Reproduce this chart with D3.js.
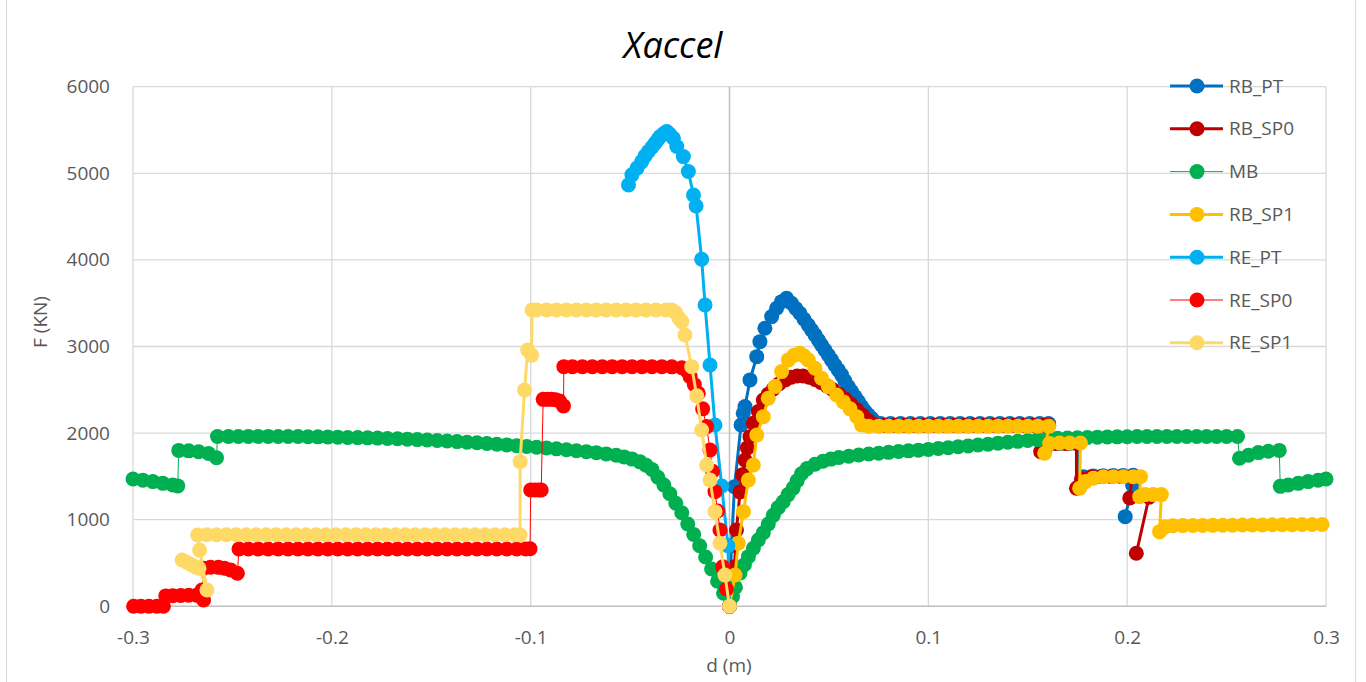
<!DOCTYPE html>
<html>
<head>
<meta charset="utf-8">
<script src="https://cdn.jsdelivr.net/npm/d3@7"></script>
<style>
  html, body { margin: 0; padding: 0; background: #ffffff; }
  svg { display: block; }
</style>
</head>
<body>
<script>
// ---------------- DATA ----------------
const xTicks = [-0.3, -0.2, -0.1, 0, 0.1, 0.2, 0.3];
const xTickLabels = ["-0.3", "-0.2", "-0.1", "0", "0.1", "0.2", "0.3"];
const yTicks = [0, 1000, 2000, 3000, 4000, 5000, 6000];
const yTickLabels = ["0", "1000", "2000", "3000", "4000", "5000", "6000"];

const seriesNames = ["RB_PT", "RB_SP0", "MB", "RB_SP1", "RE_PT", "RE_SP0", "RE_SP1"];

const RB_PT = [
  [0,0],[0.001,700],[0.0025,1380],[0.0058,2094],[0.0069,2229],[0.0078,2306],[0.0103,2614],[0.0137,2883],
  [0.0153,3056],[0.0178,3211],[0.0212,3345],[0.0237,3442],[0.0262,3518],[0.0287,3557],[0.0312,3500],
  [0.0333,3440],[0.0354,3384],[0.0375,3315],[0.0396,3249],[0.0413,3190],[0.0430,3134],[0.0447,3075],
  [0.0463,3018],[0.048,2960],[0.0497,2902],[0.0513,2845],[0.053,2787],[0.0547,2730],[0.0564,2672],
  [0.058,2605],[0.0597,2537],[0.0614,2480],[0.0631,2421],[0.0648,2365],[0.0664,2306],[0.0681,2255],
  [0.0698,2210],[0.0715,2170],[0.0731,2130],[0.076,2112],[0.081,2110],[0.086,2110],[0.091,2110],
  [0.096,2110],[0.101,2110],[0.106,2110],[0.111,2110],[0.116,2110],[0.121,2110],[0.126,2110],
  [0.131,2110],[0.136,2110],[0.141,2110],[0.146,2110],[0.151,2110],[0.156,2110],[0.1605,2110],
  [0.1585,1790],[0.161,1880],[0.166,1880],[0.171,1880],[0.1755,1880],[0.1755,1380],[0.178,1495],
  [0.183,1505],[0.188,1508],[0.193,1510],[0.198,1510],[0.203,1512],[0.2027,1400],[0.199,1035]
];

const RB_SP0 = [
  [0,0],[0.0012,200],[0.0025,457],[0.0035,881],[0.0053,1320],[0.0065,1520],[0.0078,1690],[0.009,1830],
  [0.0103,1959],[0.012,2114],[0.0145,2250],[0.017,2383],[0.0195,2450],[0.022,2510],[0.025,2570],
  [0.028,2615],[0.031,2645],[0.034,2660],[0.037,2660],[0.040,2645],[0.043,2620],[0.046,2585],
  [0.049,2545],[0.052,2500],[0.055,2450],[0.058,2395],[0.061,2335],[0.064,2270],[0.067,2205],
  [0.070,2140],[0.073,2095],[0.078,2090],[0.083,2090],[0.088,2090],[0.093,2090],[0.098,2090],
  [0.103,2090],[0.108,2090],[0.113,2090],[0.118,2090],[0.123,2090],[0.128,2090],[0.133,2090],
  [0.138,2090],[0.143,2090],[0.148,2090],[0.153,2090],[0.158,2090],[0.1605,2090],
  [0.1565,1786],[0.1595,1880],[0.164,1880],[0.169,1880],[0.1745,1880],[0.1745,1363],[0.177,1470],
  [0.182,1495],[0.187,1500],[0.192,1500],[0.197,1500],[0.2025,1500],[0.2013,1250],[0.211,1260],[0.2046,612]
];

const MB = [
  [-0.300,1470],[-0.295,1455],[-0.290,1440],[-0.285,1420],[-0.280,1400],[-0.2775,1390],
  [-0.2770,1800],[-0.272,1795],[-0.267,1785],[-0.262,1765],[-0.258,1715],
  [-0.2575,1960],[-0.252,1960],[-0.247,1960],[-0.242,1962],[-0.237,1962],[-0.232,1962],[-0.227,1960],
  [-0.222,1960],[-0.217,1960],[-0.212,1958],[-0.207,1957],[-0.202,1955],[-0.197,1953],[-0.192,1950],
  [-0.187,1948],[-0.182,1945],[-0.177,1942],[-0.172,1938],[-0.167,1934],[-0.162,1930],[-0.157,1925],
  [-0.152,1920],[-0.147,1914],[-0.142,1908],[-0.137,1902],[-0.132,1895],[-0.127,1888],[-0.122,1880],
  [-0.117,1872],[-0.112,1864],[-0.107,1855],[-0.102,1846],[-0.097,1837],[-0.092,1828],[-0.087,1818],
  [-0.082,1808],[-0.077,1797],[-0.072,1786],[-0.067,1774],[-0.062,1760],[-0.057,1745],[-0.053,1725],
  [-0.049,1700],[-0.045,1668],[-0.042,1630],[-0.039,1580],[-0.036,1490],[-0.033,1400],[-0.030,1300],
  [-0.027,1190],[-0.024,1080],[-0.021,950],[-0.018,830],[-0.015,700],[-0.012,570],[-0.009,430],
  [-0.006,290],[-0.003,150],[0,0],
  [0.0015,110],[0.003,220],[0.0053,384],[0.0075,480],[0.0095,573],[0.012,670],[0.0145,766],[0.017,850],
  [0.0195,950],[0.022,1050],[0.0245,1140],[0.027,1208],[0.0295,1290],[0.032,1365],[0.034,1450],
  [0.0362,1530],[0.039,1590],[0.043,1640],[0.047,1675],[0.051,1700],[0.055,1718],[0.060,1733],
  [0.065,1747],[0.070,1758],[0.075,1768],[0.080,1778],[0.085,1787],[0.090,1795],[0.095,1803],
  [0.100,1812],[0.105,1822],[0.110,1832],[0.115,1842],[0.120,1852],[0.125,1862],[0.130,1872],
  [0.135,1884],[0.140,1895],[0.145,1905],[0.150,1915],[0.155,1925],[0.160,1933],[0.165,1940],
  [0.170,1944],[0.175,1947],[0.180,1950],[0.185,1953],[0.190,1955],[0.195,1957],[0.200,1958],
  [0.205,1960],[0.210,1960],[0.215,1960],[0.220,1961],[0.225,1961],[0.230,1961],[0.235,1960],
  [0.240,1960],[0.245,1960],[0.250,1960],[0.2555,1960],
  [0.2565,1710],[0.261,1745],[0.266,1775],[0.271,1790],[0.2765,1800],
  [0.2770,1385],[0.281,1400],[0.286,1420],[0.291,1440],[0.296,1455],[0.300,1470]
];

const RB_SP1 = [
  [0,0],[0.0028,362],[0.0044,728],[0.007,1093],[0.0095,1459],[0.012,1632],[0.0137,1978],[0.017,2190],
  [0.0195,2402],[0.0229,2537],[0.0262,2710],[0.0296,2845],[0.0325,2900],[0.0354,2922],[0.0375,2890],
  [0.0396,2845],[0.043,2749],[0.0463,2633],[0.0497,2537],[0.0539,2440],[0.0573,2360],[0.0606,2280],
  [0.064,2190],[0.0664,2094],[0.070,2080],[0.075,2080],[0.080,2080],[0.085,2080],[0.090,2080],
  [0.095,2080],[0.100,2080],[0.105,2080],[0.110,2080],[0.115,2080],[0.120,2080],[0.125,2080],
  [0.130,2080],[0.135,2080],[0.140,2080],[0.145,2080],[0.150,2080],[0.155,2080],[0.1605,2080],
  [0.1585,1767],[0.161,1880],[0.166,1885],[0.171,1885],[0.1765,1885],[0.1761,1363],[0.179,1440],
  [0.183,1480],[0.188,1495],[0.193,1497],[0.198,1497],[0.203,1497],[0.2067,1497],[0.2063,1266],
  [0.209,1290],[0.213,1290],[0.2172,1290],[0.2163,862],[0.219,915],[0.223,930],[0.228,932],
  [0.233,933],[0.238,934],[0.243,935],[0.248,936],[0.253,937],[0.258,938],[0.263,939],[0.268,940],
  [0.273,941],[0.278,942],[0.283,943],[0.288,944],[0.293,944],[0.298,945]
];

const RE_PT = [
  [-0.0508,4866],[-0.0491,4982],[-0.0465,5060],[-0.0441,5135],[-0.0425,5200],[-0.0408,5251],
  [-0.039,5300],[-0.0374,5348],[-0.036,5390],[-0.0349,5424],[-0.033,5460],[-0.0316,5482],
  [-0.030,5450],[-0.0282,5405],[-0.0265,5309],[-0.0232,5193],[-0.0207,5020],[-0.0181,4750],
  [-0.0168,4623],[-0.014,4008],[-0.0123,3480],[-0.0098,2787],[-0.0073,2094],[-0.0039,1389],
  [-0.0008,700],[0,0]
];

const RE_SP0 = [
  [-0.2997,0],[-0.296,0],[-0.292,0],[-0.288,0],[-0.2847,0],
  [-0.2835,120],[-0.280,122],[-0.276,125],[-0.272,127],[-0.268,128],[-0.2655,125],[-0.2645,72],
  [-0.2653,188],[-0.2645,440],[-0.261,452],[-0.257,450],[-0.254,440],[-0.251,420],[-0.2475,381],
  [-0.2467,662],[-0.242,662],[-0.237,662],[-0.232,662],[-0.227,662],[-0.222,662],[-0.217,662],
  [-0.212,662],[-0.207,662],[-0.202,662],[-0.197,662],[-0.192,662],[-0.187,662],[-0.182,662],
  [-0.177,662],[-0.172,662],[-0.167,662],[-0.162,662],[-0.157,662],[-0.152,662],[-0.147,662],
  [-0.142,662],[-0.137,662],[-0.132,662],[-0.127,662],[-0.122,662],[-0.117,662],[-0.112,662],
  [-0.107,662],[-0.1025,662],[-0.1003,665],
  [-0.1,1343],[-0.098,1343],[-0.096,1343],[-0.0947,1343],
  [-0.0937,2390],[-0.0915,2390],[-0.0895,2390],[-0.0875,2385],[-0.0855,2370],[-0.0835,2314],
  [-0.0833,2767],[-0.079,2767],[-0.074,2767],[-0.069,2767],[-0.064,2767],[-0.059,2767],[-0.054,2767],
  [-0.049,2767],[-0.044,2767],[-0.039,2767],[-0.034,2767],[-0.029,2765],[-0.024,2755],
  [-0.0215,2720],[-0.0198,2652],[-0.0177,2560],[-0.0157,2460],[-0.0135,2280],[-0.0115,2075],
  [-0.0098,1805],[-0.0085,1560],[-0.0073,1324],[-0.006,1100],[-0.0048,881],[-0.0034,457],
  [-0.0015,200],[0,0]
];

const RE_SP1 = [
  [-0.2753,535],[-0.2728,505],[-0.2704,477],[-0.2685,455],[-0.2668,439],[-0.2628,188],[-0.2665,650],
  [-0.2675,824],[-0.263,826],[-0.258,826],[-0.253,826],[-0.248,826],[-0.243,826],[-0.238,826],
  [-0.233,826],[-0.228,826],[-0.223,826],[-0.218,826],[-0.213,826],[-0.208,826],[-0.203,826],
  [-0.198,826],[-0.193,826],[-0.188,826],[-0.183,826],[-0.178,826],[-0.173,826],[-0.168,826],
  [-0.163,826],[-0.158,826],[-0.153,826],[-0.148,826],[-0.143,826],[-0.138,826],[-0.133,826],
  [-0.128,826],[-0.123,826],[-0.118,826],[-0.113,826],[-0.108,826],[-0.1053,824],
  [-0.1053,1670],[-0.1031,2498],[-0.1015,2960],[-0.0995,2900],[-0.0993,3422],[-0.097,3422],
  [-0.092,3422],[-0.087,3422],[-0.082,3422],[-0.077,3422],[-0.072,3422],[-0.067,3422],[-0.062,3422],
  [-0.057,3422],[-0.052,3422],[-0.047,3422],[-0.042,3422],[-0.037,3422],[-0.032,3422],[-0.029,3422],
  [-0.027,3390],[-0.0255,3330],[-0.024,3287],[-0.0224,3133],[-0.019,2767],[-0.0165,2430],
  [-0.014,2036],[-0.0115,1632],[-0.0098,1459],[-0.0073,1093],[-0.0048,728],[-0.0023,362],[0,0]
];

const seriesData = [RB_PT, RB_SP0, MB, RB_SP1, RE_PT, RE_SP0, RE_SP1];
const seriesColors = ["#0070C0", "#C00000", "#00B050", "#FFC000", "#00B0F0", "#FF0000", "#FFD966"];
const seriesLineWidths = [3, 3, 1, 3, 3, 1, 3];

// ---------------- CHART ----------------
const W = 1366, H = 682;
const FONT = "'Open Sans', 'Noto Sans', sans-serif";
const textColor = "#595959";

const svg = d3.select("body").append("svg").attr("width", W).attr("height", H);
svg.append("rect").attr("width", W).attr("height", H).attr("fill", "#ffffff");

// chart area border (left/right visible)
svg.append("line").attr("x1", 6.5).attr("x2", 6.5).attr("y1", 0).attr("y2", H).attr("stroke", "#d9d9d9").attr("stroke-width", 1);
svg.append("line").attr("x1", 1355.5).attr("x2", 1355.5).attr("y1", 0).attr("y2", H).attr("stroke", "#d9d9d9").attr("stroke-width", 1);

const x = d3.scaleLinear().domain([-0.3, 0.3]).range([133, 1326]);
const y = d3.scaleLinear().domain([0, 6000]).range([606.3, 86.7]);

// gridlines
const grid = svg.append("g");
grid.selectAll("line.h").data(yTicks.filter(d => d !== 0)).join("line")
  .attr("x1", x(-0.3)).attr("x2", x(0.3))
  .attr("y1", d => y(d)).attr("y2", d => y(d))
  .attr("stroke", "#d9d9d9").attr("stroke-width", 1.3);
grid.selectAll("line.v").data(xTicks.filter(d => d !== 0)).join("line")
  .attr("x1", d => x(d)).attr("x2", d => x(d))
  .attr("y1", y(6000)).attr("y2", y(0))
  .attr("stroke", "#d9d9d9").attr("stroke-width", 1.3);

// zero axes
svg.append("line").attr("x1", x(-0.3)).attr("x2", x(0.3)).attr("y1", y(0)).attr("y2", y(0))
  .attr("stroke", "#bfbfbf").attr("stroke-width", 1.5);
svg.append("line").attr("x1", x(0)).attr("x2", x(0)).attr("y1", y(6000)).attr("y2", y(0))
  .attr("stroke", "#bfbfbf").attr("stroke-width", 1.5);

// axes labels via d3 axes
const xAxis = d3.axisBottom(x).tickValues(xTicks).tickFormat((d, i) => xTickLabels[i]).tickSize(0).tickPadding(24);
const gx = svg.append("g").attr("transform", `translate(0,${y(0)})`).call(xAxis);
gx.select(".domain").remove();
gx.selectAll("text").attr("font-family", FONT).attr("font-size", 19).attr("fill", textColor);

const yAxis = d3.axisLeft(y).tickValues(yTicks).tickFormat((d, i) => yTickLabels[i]).tickSize(0).tickPadding(23);
const gy = svg.append("g").attr("transform", `translate(${x(-0.3)},0)`).call(yAxis);
gy.select(".domain").remove();
gy.selectAll("text").attr("font-family", FONT).attr("font-size", 19).attr("fill", textColor);

// axis titles
svg.append("text").attr("x", 729).attr("y", 672).attr("text-anchor", "middle")
  .attr("font-family", FONT).attr("font-size", 19).attr("fill", textColor).text("d (m)");
svg.append("text").attr("transform", "translate(47,322) rotate(-90)").attr("text-anchor", "middle")
  .attr("font-family", FONT).attr("font-size", 19).attr("fill", textColor).text("F (KN)");

// title
svg.append("text").attr("x", 673).attr("y", 58).attr("text-anchor", "middle")
  .attr("font-family", FONT).attr("font-style", "italic").attr("font-size", 36).attr("fill", "#000000").text("Xaccel");

// series
const line = d3.line().x(d => x(d[0])).y(d => y(d[1]));
const R = 7.5;
seriesData.forEach((data, i) => {
  const g = svg.append("g");
  g.append("path").datum(data).attr("d", line).attr("fill", "none")
    .attr("stroke", seriesColors[i]).attr("stroke-width", seriesLineWidths[i]).attr("stroke-linejoin", "round");
  g.selectAll("circle").data(data).join("circle")
    .attr("cx", d => x(d[0])).attr("cy", d => y(d[1])).attr("r", R)
    .attr("fill", seriesColors[i]);
});

// legend
const legY0 = 86, legDy = 42.8;
const leg = svg.append("g");
seriesNames.forEach((name, i) => {
  const yy = legY0 + i * legDy;
  leg.append("line").attr("x1", 1170).attr("x2", 1223).attr("y1", yy).attr("y2", yy)
    .attr("stroke", seriesColors[i]).attr("stroke-width", seriesLineWidths[i]);
  leg.append("circle").attr("cx", 1197).attr("cy", yy).attr("r", R).attr("fill", seriesColors[i]);
  leg.append("text").attr("x", 1229).attr("y", yy).attr("dy", "0.35em")
    .attr("font-family", FONT).attr("font-size", 19).attr("fill", textColor).text(name);
});
</script>
</body>
</html>
